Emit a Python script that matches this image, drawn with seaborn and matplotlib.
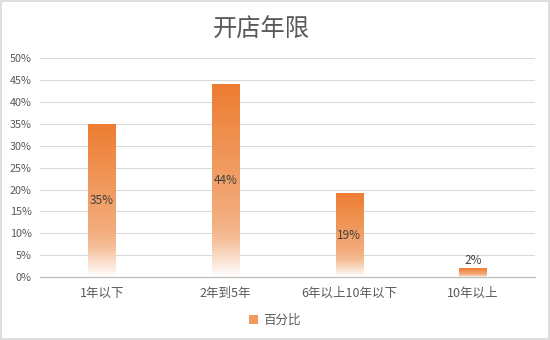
import matplotlib
matplotlib.use("Agg")
import matplotlib.pyplot as plt
import seaborn as sns
import numpy as np
import pandas as pd
from matplotlib.colors import LinearSegmentedColormap
from matplotlib.patches import Patch, Rectangle
from matplotlib.ticker import FuncFormatter

categories = ["1年以下", "2年到5年", "6年以上10年以下", "10年以上"]
values = [35, 44, 19, 2]
value_labels = ["35%", "44%", "19%", "2%"]
yticks = [0, 5, 10, 15, 20, 25, 30, 35, 40, 45, 50]
title = "开店年限"
series_name = "百分比"

sns.set_theme(style="white")
plt.rcParams['font.family'] = ['Noto Sans CJK SC', 'DejaVu Sans']

df = pd.DataFrame({"cat": categories, "val": values})

fig = plt.figure(figsize=(5.5, 3.4), dpi=100)
ax = fig.add_axes([0.0727, 0.1853, 0.9, 0.6427])

sns.barplot(data=df, x="cat", y="val", ax=ax, width=0.22, color="#ED7D31",
            errorbar=None, zorder=2)

cmap = LinearSegmentedColormap.from_list(
    "grad", [(0.0, "#ED7D31"), (0.7, "#F3AD7E"), (0.8, "#F5BD96"), (1.0, "#FFFFFF")])
grad = np.linspace(0, 1, 256).reshape(-1, 1)

ax.set_ylim(0, 50)
ax.set_xlim(-0.5, len(categories) - 0.5)

for i, p in enumerate(ax.patches):
    x0 = p.get_x(); w = p.get_width(); h = p.get_height()
    p.set_facecolor("none"); p.set_edgecolor("none")
    ax.imshow(grad, cmap=cmap, extent=(x0, x0 + w, 0, h), aspect="auto",
              origin="upper", zorder=2, interpolation="bilinear")
    if h < 5:
        ax.text(x0 + w / 2, h + 0.4, value_labels[i], ha="center", va="bottom",
                fontsize=8.5, color="#404040", zorder=3)
    else:
        ax.text(x0 + w / 2, h / 2, value_labels[i], ha="center", va="center",
                fontsize=8.5, color="#404040", zorder=3)

ax.set_ylim(0, 50)
ax.set_xlim(-0.5, len(categories) - 0.5)

ax.set_yticks(yticks)
ax.yaxis.set_major_formatter(FuncFormatter(lambda v, _: f"{int(v)}%"))
ax.grid(axis="y", color="#D9D9D9", linewidth=0.75, zorder=0)
ax.set_axisbelow(True)

for s in ["top", "right", "left"]:
    ax.spines[s].set_visible(False)
ax.spines["bottom"].set_color("#BFBFBF")
ax.spines["bottom"].set_linewidth(0.9)

ax.set_xticks(range(len(categories)))
ax.set_xticklabels(categories)
ax.tick_params(axis="x", length=0, labelsize=9, labelcolor="#595959", pad=7)
ax.tick_params(axis="y", length=0, labelsize=7.8, labelcolor="#595959", pad=6)
ax.set_xticks(np.arange(-0.5, len(categories), 1.0), minor=True)
ax.tick_params(axis="x", which="minor", length=4, color="#BFBFBF", width=0.9, direction="out")
ax.set_xlabel("")
ax.set_ylabel("")

fig.suptitle(title, fontsize=17.5, color="#595959", x=0.475, y=0.95)

handle = Patch(facecolor="#F29A5E", edgecolor="none")
fig.legend([handle], [series_name], loc="center", bbox_to_anchor=(0.5, 0.058),
           frameon=False, fontsize=9, handlelength=0.7, handleheight=0.7,
           handletextpad=0.4, labelcolor="#595959")

fig.patches.append(Rectangle((0.001, 0.0015), 0.997, 0.996, transform=fig.transFigure,
                             fill=False, edgecolor="#D9D9D9", linewidth=1.2))

fig.savefig("out.png", dpi=100)
